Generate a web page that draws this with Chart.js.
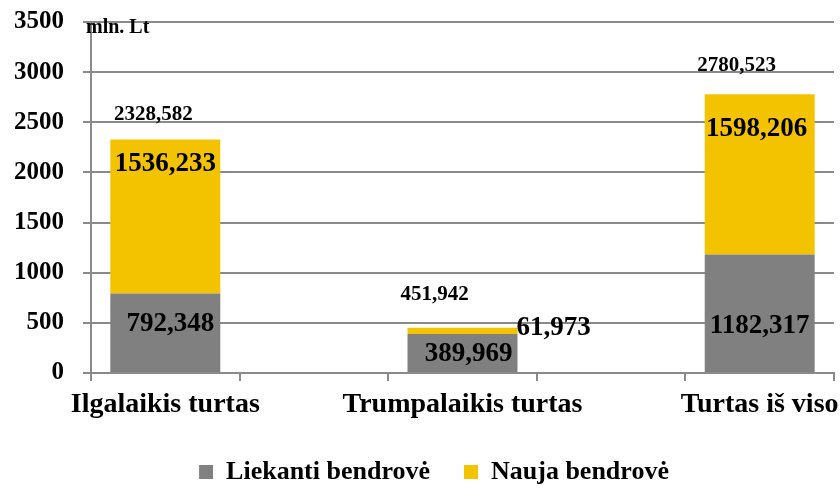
<!DOCTYPE html>
<html>
<head>
<meta charset="utf-8">
<script src="https://cdn.jsdelivr.net/npm/chart.js@4.4.1/dist/chart.umd.min.js"></script>
<style>
  html, body { margin: 0; padding: 0; background: #fff; }
  #wrap { width: 840px; height: 488px; }
</style>
</head>
<body>
<div id="wrap"><canvas id="chart"></canvas></div>
<script>
const categories = ['Ilgalaikis turtas', 'Trumpalaikis turtas', 'Turtas iš viso'];
const liekanti = [792.348, 389.969, 1182.317];
const nauja = [1536.233, 61.973, 1598.206];
const totals = [2328.582, 451.942, 2780.523];
const yTicks = [0, 500, 1000, 1500, 2000, 2500, 3000, 3500];
const seriesNames = ['Liekanti bendrovė', 'Nauja bendrovė'];

const FONT = "'Liberation Serif', 'Times New Roman', serif";
const GRID = '#8a8a8a';

// bars sit on every other slot of the category axis, empty slots in between
const spread = arr => arr.flatMap(v => [v, null]).slice(0, -1);
const labels = categories.flatMap(c => [c, '']).slice(0, -1);

const fmt = v => v.toFixed(3).replace('.', ',');

// nudges for the value labels, in px
const nudge = {
  gray:  [[5, -48], [6, -18], [0, -46]],
  yel:   [[0, 25], [91, 0], [-3, 35]],
  total: [[-12, -25], [-28, -33], [-23, -29]]
};

const valueLabels = {
  id: 'valueLabels',
  afterLayout(chart) {
    // legend sits a bit right of centre in the original
    chart.legend.left += 17;
    chart.legend.right += 17;
  },
  afterDatasetsDraw(chart) {
    const ctx = chart.ctx;
    const g = chart.getDatasetMeta(0).data;
    const y = chart.getDatasetMeta(1).data;
    ctx.save();
    ctx.fillStyle = '#000';
    ctx.textAlign = 'center';
    ctx.textBaseline = 'middle';
    categories.forEach((c, i) => {
      const gb = g[i * 2], yb = y[i * 2];
      ctx.font = 'bold 27px ' + FONT;
      ctx.fillText(fmt(liekanti[i]), gb.x + nudge.gray[i][0], gb.base + nudge.gray[i][1]);
      ctx.fillText(fmt(nauja[i]), yb.x + nudge.yel[i][0], yb.y + nudge.yel[i][1]);
      ctx.font = 'bold 21px ' + FONT;
      ctx.fillText(fmt(totals[i]), yb.x + nudge.total[i][0], yb.y + nudge.total[i][1]);
    });
    // unit
    ctx.textAlign = 'left';
    ctx.font = 'bold 20px ' + FONT;
    ctx.fillText('mln. Lt', chart.chartArea.left - 5, chart.chartArea.top + 6);
    ctx.restore();
  }
};

new Chart(document.getElementById('chart'), {
  type: 'bar',
  data: {
    labels: labels,
    datasets: [
      { label: seriesNames[0], data: spread(liekanti), backgroundColor: '#808080' },
      { label: seriesNames[1], data: spread(nauja), backgroundColor: '#F4C300' }
    ]
  },
  options: {
    responsive: true,
    maintainAspectRatio: false,
    animation: false,
    layout: { padding: { top: 22, right: 6, bottom: -7, left: 0 } },
    datasets: { bar: { barPercentage: 0.74, categoryPercentage: 1 } },
    plugins: {
      tooltip: { enabled: false },
      legend: {
        position: 'bottom',
        labels: {
          color: '#000',
          font: { family: FONT, size: 26, weight: 'bold' },
          boxWidth: 14,
          boxHeight: 14,
          padding: 34
        }
      }
    },
    scales: {
      x: {
        stacked: true,
        grid: { drawOnChartArea: false, color: GRID, lineWidth: 2, tickLength: 8, offset: true },
        border: { color: GRID, width: 2 },
        ticks: {
          color: '#000',
          font: { family: FONT, size: 28, weight: 'bold' },
          padding: 7,
          maxRotation: 0,
          autoSkip: false
        },
        afterFit(scale) {
          scale.height = 52;
          scale.paddingLeft = 0;
          scale.paddingRight = 0;
        }
      },
      y: {
        stacked: true,
        min: 0,
        max: 3500,
        afterBuildTicks(scale) { scale.ticks = yTicks.map(v => ({ value: v })); },
        grid: { color: GRID, lineWidth: 2, tickLength: 8 },
        border: { color: GRID, width: 2 },
        ticks: {
          color: '#000',
          font: { family: FONT, size: 25, weight: 'bold' },
          padding: 19,
          callback: v => String(v)
        },
        afterFit(scale) {
          scale.width = 91;
          scale.paddingTop = 0;
          scale.paddingBottom = 0;
        }
      }
    }
  },
  plugins: [valueLabels]
});
</script>
</body>
</html>
